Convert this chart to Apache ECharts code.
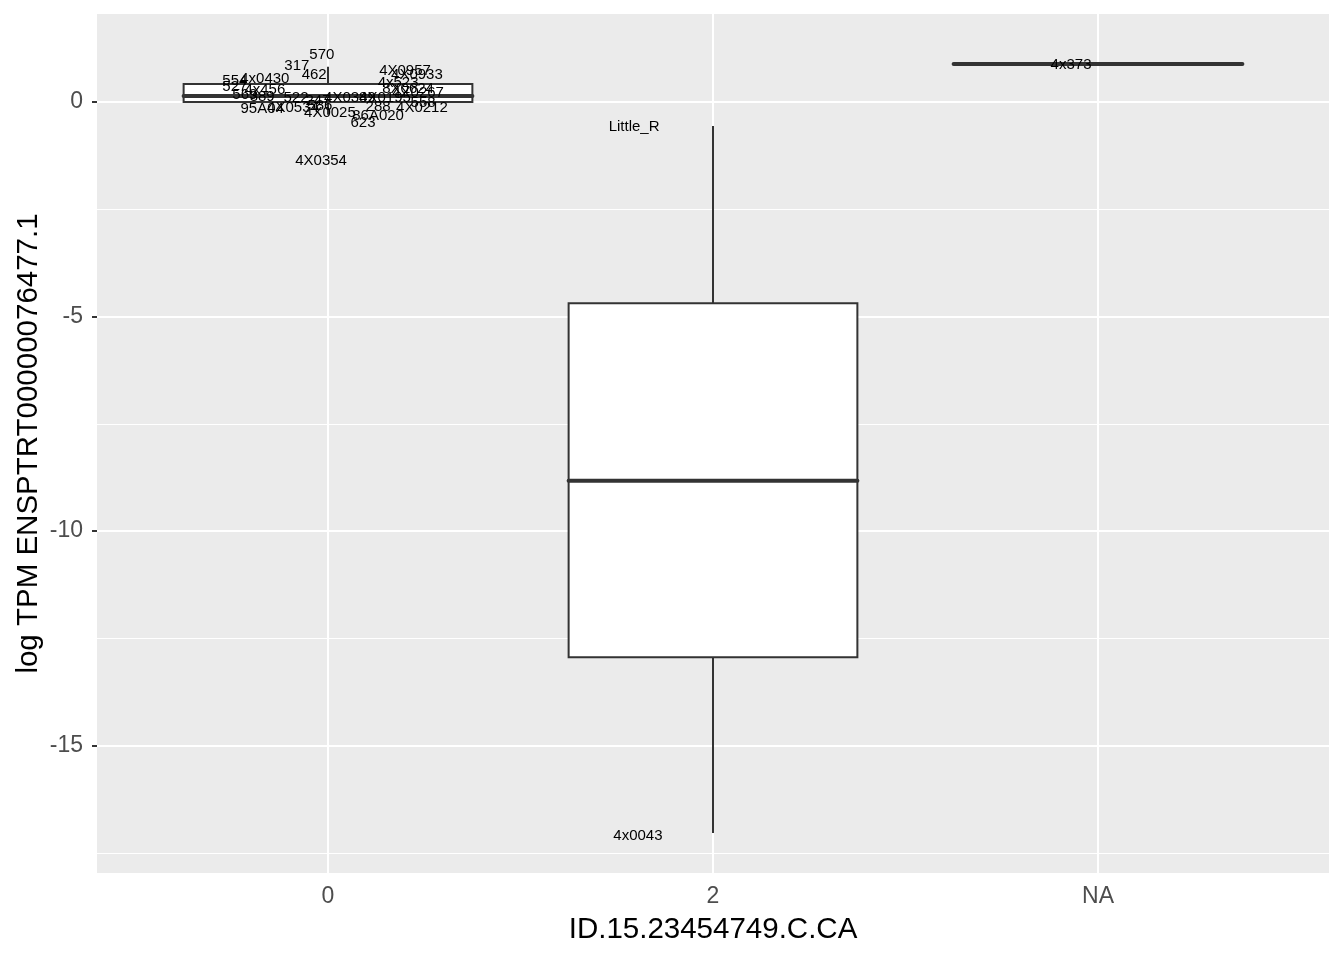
<!DOCTYPE html>
<html>
<head>
<meta charset="utf-8">
<script src="https://cdn.jsdelivr.net/npm/echarts@6/dist/echarts.min.js"></script>
<style>html,body{margin:0;padding:0;background:#fff;}#c{width:1344px;height:960px;}</style>
</head>
<body>
<div id="c"></div>
<script>
// ---- data ----
const categories = ['0', '2', 'NA'];
const categoryPos = [1, 2, 3];
const boxLow    = [-0.30, -17.04, 0.885];
const boxQ1     = [ 0.00, -12.94, 0.885];
const boxMedian = [ 0.14,  -8.83, 0.885];
const boxQ3     = [ 0.42,  -4.69, 0.885];
const boxHigh   = [ 0.82,  -0.56, 0.885];

const labelNames = ['570','317','462','554','4x0430','527','4x456','569','389','522','247','95A04','4X0534','586','4X0025','4X0389','4X0195','4X0957','4X0933','4x523','8X0624','4X0267','558','4X0212','288','86A020','623','4X0354','Little_R','4x0043','4x373'];
const labelX = [0.984,0.919,0.964,0.758,0.836,0.758,0.836,0.784,0.829,0.917,0.974,0.829,0.909,0.979,1.005,1.057,1.148,1.200,1.231,1.182,1.208,1.234,1.247,1.244,1.130,1.130,1.091,0.982,1.795,1.805,2.930];
const labelY = [1.10,0.84,0.63,0.49,0.54,0.35,0.28,0.16,0.12,0.09,0.02,-0.16,-0.14,-0.09,-0.26,0.09,0.09,0.72,0.63,0.44,0.30,0.21,-0.02,-0.14,-0.12,-0.33,-0.49,-1.38,-0.58,-17.11,0.86];

const yMajor = [-15, -10, -5, 0];
const yMinor = [-17.5, -12.5, -7.5, -2.5];

// ---- build ----
const boxData = categoryPos.map((x, i) => [x, boxLow[i], boxQ1[i], boxMedian[i], boxQ3[i], boxHigh[i]]);
const labelData = labelNames.map((n, i) => [labelX[i], labelY[i], n]);
const halfW = 0.375;
const ink = '#333333';
const FONT = 'Liberation Sans, Arial, Helvetica, sans-serif';

const chart = echarts.init(document.getElementById('c'), null, {renderer: 'canvas'});
const gridLines = [];
yMinor.forEach(v => gridLines.push({yAxis: v, lineStyle: {width: 1, color: '#ffffff', type: 'solid'}}));
yMajor.forEach(v => gridLines.push({yAxis: v, lineStyle: {width: 2, color: '#ffffff', type: 'solid'}}));
categoryPos.forEach(v => gridLines.push({xAxis: v, lineStyle: {width: 2, color: '#ffffff', type: 'solid'}}));

chart.setOption({
  animation: false,
  backgroundColor: '#ffffff',
  textStyle: {fontFamily: FONT},
  grid: {left: 97, top: 14, width: 1232, height: 859, show: true, backgroundColor: '#ebebeb', borderWidth: 0},
  xAxis: {
    type: 'value', min: 0.4, max: 3.6,
    name: 'ID.15.23454749.C.CA', nameLocation: 'middle', nameGap: 42, nameMoveOverlap: false,
    nameTextStyle: {fontSize: 29.5, color: '#000000', fontFamily: FONT},
    axisLine: {show: false},
    splitLine: {show: false},
    axisTick: {show: true, length: 5, lineStyle: {color: '#333333', width: 2}, customValues: categoryPos},
    axisLabel: {customValues: categoryPos, fontSize: 23, color: '#4d4d4d', margin: 12, fontFamily: FONT,
      formatter: v => categories[categoryPos.indexOf(Math.round(v))] || ''}
  },
  yAxis: {
    type: 'value', min: -17.97, max: 2.05,
    name: 'log TPM ENSPTRT00000076477.1', nameLocation: 'middle', nameGap: 53, nameRotate: 90, nameMoveOverlap: false,
    nameTextStyle: {fontSize: 29.5, color: '#000000', fontFamily: FONT},
    axisLine: {show: false},
    splitLine: {show: false},
    axisTick: {show: true, length: 5, lineStyle: {color: '#333333', width: 2}, customValues: yMajor},
    axisLabel: {customValues: yMajor, fontSize: 23, color: '#4d4d4d', margin: 14, fontFamily: FONT, formatter: v => String(v)}
  },
  series: [
    {
      type: 'line', data: [], silent: true, z: 1,
      markLine: {silent: true, symbol: 'none', label: {show: false}, animation: false, z: 1, data: gridLines}
    },
    {
      type: 'custom', data: boxData, silent: true, z: 5,
      renderItem: function (params, api) {
        const x = api.value(0);
        const pLow = api.coord([x, api.value(1)]);
        const pQ1 = api.coord([x, api.value(2)]);
        const pMed = api.coord([x, api.value(3)]);
        const pQ3 = api.coord([x, api.value(4)]);
        const pHigh = api.coord([x, api.value(5)]);
        const left = api.coord([x - halfW, 0])[0];
        const right = api.coord([x + halfW, 0])[0];
        return {
          type: 'group',
          children: [
            {type: 'line', shape: {x1: pHigh[0], y1: pHigh[1], x2: pQ3[0], y2: pQ3[1]}, style: {stroke: ink, lineWidth: 2}},
            {type: 'line', shape: {x1: pQ1[0], y1: pQ1[1], x2: pLow[0], y2: pLow[1]}, style: {stroke: ink, lineWidth: 2}},
            {type: 'rect', shape: {x: left, y: pQ3[1], width: right - left, height: pQ1[1] - pQ3[1]}, style: {fill: '#ffffff', stroke: ink, lineWidth: 2}},
            {type: 'line', shape: {x1: left, y1: pMed[1], x2: right, y2: pMed[1]}, style: {stroke: ink, lineWidth: 4, lineCap: 'round'}}
          ]
        };
      }
    },
    {
      type: 'custom', data: labelData, silent: true, z: 6,
      renderItem: function (params, api) {
        const p = api.coord([api.value(0), api.value(1)]);
        return {
          type: 'text', x: p[0], y: p[1],
          style: {text: labelNames[params.dataIndex], fill: '#000000', fontSize: 15,
            fontFamily: FONT, align: 'center', verticalAlign: 'middle'}
        };
      }
    }
  ]
});
</script>
</body>
</html>
